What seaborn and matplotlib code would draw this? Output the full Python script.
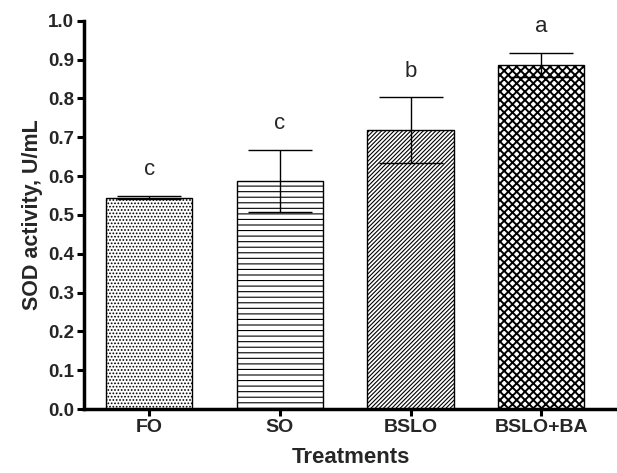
import numpy as np
import pandas as pd
import matplotlib
matplotlib.use("Agg")
import matplotlib.pyplot as plt
import seaborn as sns

# data
treatments = ["FO", "SO", "BSLO", "BSLO+BA"]
sod_mean = [0.545, 0.588, 0.718, 0.887]
sod_err = [0.004, 0.080, 0.085, 0.031]
letters = ["c", "c", "b", "a"]
hatches = [".....", "---", "////////", "xxxx"]

sns.set_style("ticks")
plt.rcParams['font.family'] = ['Liberation Sans', 'DejaVu Sans']
plt.rcParams['hatch.linewidth'] = 0.8

df = pd.DataFrame({"Treatments": treatments, "SOD": sod_mean})

fig = plt.figure(figsize=(6.17, 4.73), dpi=100)
ax = fig.add_axes([0.136, 0.135, 0.864, 0.821])

sns.barplot(data=df, x="Treatments", y="SOD", color="white", edgecolor="black",
            linewidth=1.0, width=0.66, errorbar=None, ax=ax)

for bar, h in zip(ax.patches, hatches):
    bar.set_hatch(h)
if hasattr(ax.patches[3], "set_hatch_linewidth"):
    ax.patches[3].set_hatch_linewidth(1.4)

ax.errorbar(np.arange(len(treatments)), sod_mean, yerr=sod_err, fmt="none",
            ecolor="black", elinewidth=1.0, capsize=23, capthick=1.0)

for i, (m, e, t) in enumerate(zip(sod_mean, sod_err, letters)):
    ax.text(i, m + e + 0.04, t, ha="center", va="bottom", fontsize=16)

ax.set_ylim(0, 1.0)
ax.set_xlim(-0.5, 3.58)
ax.set_yticks(np.arange(0, 1.01, 0.1))
ax.set_yticklabels([f"{v:.1f}" for v in np.arange(0, 1.01, 0.1)])
ax.set_xlabel("Treatments", fontsize=16, fontweight="bold", labelpad=8)
ax.set_ylabel("SOD activity, U/mL", fontsize=15.5, fontweight="bold", labelpad=4)
for lab in ax.get_xticklabels():
    lab.set_fontweight("bold")
    lab.set_fontsize(14)
for lab in ax.get_yticklabels():
    lab.set_fontweight("bold")
    lab.set_fontsize(13.5)
ax.tick_params(width=2.2, length=5, color="black", pad=2)
for s in ["left", "bottom"]:
    ax.spines[s].set_linewidth(2.5)
    ax.spines[s].set_color("black")
sns.despine(ax=ax)

fig.savefig("out.png", dpi=100)
